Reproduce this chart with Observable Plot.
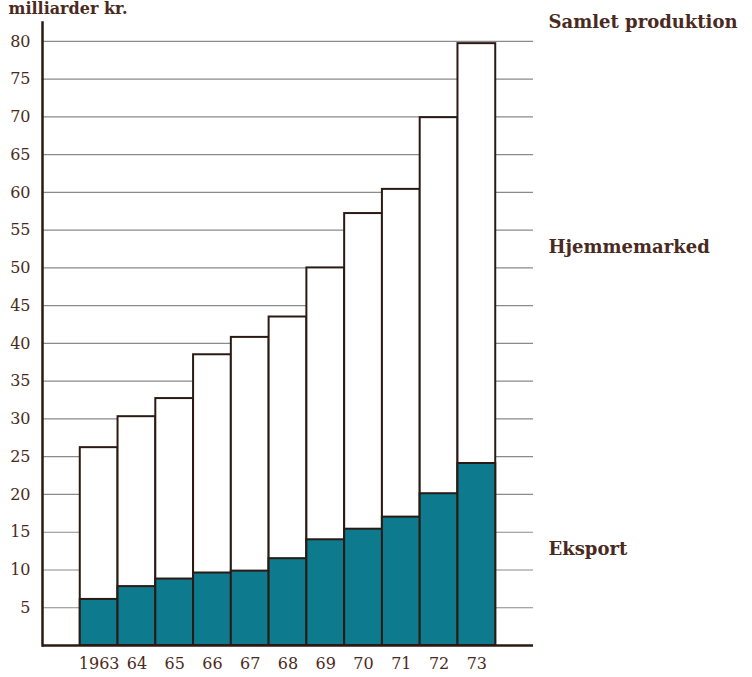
<!DOCTYPE html>
<html>
<head>
<meta charset="utf-8">
<script src="https://cdn.jsdelivr.net/npm/d3@7"></script>
<script src="https://cdn.jsdelivr.net/npm/@observablehq/plot@0.6"></script>
<style>
  html, body { margin: 0; padding: 0; background: #ffffff; }
  #chart svg { display: block; }
</style>
</head>
<body>
<div id="chart"></div>
<script>
// Data (milliarder kr.)
const years = ["1963", "64", "65", "66", "67", "68", "69", "70", "71", "72", "73"];
const totalProduction = [26.2, 30.3, 32.7, 38.5, 40.8, 43.5, 50.0, 57.2, 60.4, 69.9, 79.7];
const exports = [6.1, 7.8, 8.8, 9.6, 9.85, 11.5, 14.0, 15.4, 17.0, 20.1, 24.1];
const yTicks = [5, 10, 15, 20, 25, 30, 35, 40, 45, 50, 55, 60, 65, 70, 75, 80];
const unitLabel = "milliarder kr.";
const seriesLabels = ["Samlet produktion", "Hjemmemarked", "Eksport"];
const seriesLabelValues = [82.5, 52.8, 12.7];

const rows = years.map((year, i) => ({ year, total: totalProduction[i], exp: exports[i] }));
const labelRows = seriesLabels.map((label, i) => ({ label, y: seriesLabelValues[i] }));

const brown = "#4a2a20";
const dark = "#2b1a14";
const teal = "#0e7a8e";
const serif = "DejaVu Serif, Liberation Serif, serif";

const chart = Plot.plot({
  width: 752,
  height: 677,
  marginLeft: 42,
  marginRight: 219,
  marginTop: 22,
  marginBottom: 32,
  style: { fontFamily: serif, background: "#ffffff", overflow: "visible" },
  x: { domain: years, paddingInner: 0, paddingOuter: 1, round: false, label: null },
  y: { domain: [0, 82.5], label: null },
  marks: [
    Plot.ruleY(yTicks, { stroke: "#8a8a8a", strokeWidth: 1.2 }),
    Plot.barY(rows, { x: "year", y: "total", fill: "#ffffff", stroke: dark, strokeWidth: 2 }),
    Plot.barY(rows, { x: "year", y: "exp", fill: teal, stroke: dark, strokeWidth: 2 }),
    Plot.ruleY([0], { stroke: dark, strokeWidth: 2.5 }),
    Plot.frame({ anchor: "left", stroke: dark, strokeWidth: 2.5 }),
    Plot.axisY(yTicks, { tickSize: 0, tickPadding: 12, fontSize: 16, fill: brown, label: null }),
    Plot.axisX({ tickSize: 0, tickPadding: 12, fontSize: 16, fill: brown, label: null }),
    Plot.text([unitLabel], {
      frameAnchor: "top-left", dx: -34, dy: -9, lineAnchor: "bottom", textAnchor: "start",
      fontSize: 16, fontWeight: "bold", fill: brown
    }),
    Plot.text(labelRows, {
      y: "y", text: "label", frameAnchor: "right", dx: 15, textAnchor: "start",
      fontSize: 18, fontWeight: "bold", fill: brown
    })
  ]
});
document.getElementById("chart").appendChild(chart);
</script>
</body>
</html>
